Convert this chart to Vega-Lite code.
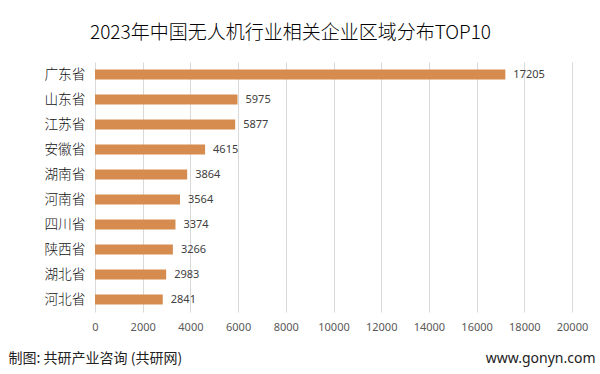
{
  "$schema": "https://vega.github.io/schema/vega-lite/v6.json",
  "autosize": "none",
  "width": 477,
  "height": 250,
  "padding": {"left": 95, "top": 62, "right": 28, "bottom": 62},
  "background": "white",
  "config": {
    "view": {"stroke": null},
    "font": "Noto Sans CJK SC"
  },
  "title": {
    "text": "2023年中国无人机行业相关企业区域分布TOP10",
    "fontSize": 19,
    "fontWeight": 300,
    "color": "#000000",
    "anchor": "middle",
    "frame": "group",
    "dx": -43,
    "offset": 19
  },
  "data": {
    "values": [
      {"province": "广东省", "count": 17205},
      {"province": "山东省", "count": 5975},
      {"province": "江苏省", "count": 5877},
      {"province": "安徽省", "count": 4615},
      {"province": "湖南省", "count": 3864},
      {"province": "河南省", "count": 3564},
      {"province": "四川省", "count": 3374},
      {"province": "陕西省", "count": 3266},
      {"province": "湖北省", "count": 2983},
      {"province": "河北省", "count": 2841}
    ]
  },
  "encoding": {
    "y": {
      "field": "province",
      "type": "nominal",
      "sort": null,
      "scale": {"paddingInner": 0.6, "paddingOuter": 0.3},
      "axis": {
        "title": "www.gonyn.com",
        "titleAngle": 0,
        "titleX": 500,
        "titleY": 296,
        "titleAlign": "right",
        "titleBaseline": "middle",
        "titleFontSize": 14,
        "titleFontWeight": "normal",
        "titleColor": "#222222",
        "titleFont": "Noto Sans",
        "domain": false,
        "ticks": false,
        "labelFontSize": 13.7,
        "labelFontWeight": 300,
        "labelColor": "#111111",
        "labelPadding": 10
      }
    },
    "x": {
      "field": "count",
      "type": "quantitative",
      "scale": {"domain": [0, 20000], "nice": false},
      "axis": {
        "values": [0, 2000, 4000, 6000, 8000, 10000, 12000, 14000, 16000, 18000, 20000],
        "format": "d",
        "domain": false,
        "ticks": false,
        "grid": true,
        "gridColor": "#d9d9d9",
        "labelFontSize": 11,
        "labelColor": "#595959",
        "labelFont": "Noto Sans",
        "labelPadding": 9,
        "labelOverlap": false,
        "labelFlush": false,
        "labelBound": false,
        "title": "制图: 共研产业咨询 (共研网)",
        "titleX": -87,
        "titleY": 46,
        "titleAlign": "left",
        "titleAnchor": null,
        "titleBaseline": "middle",
        "titleFontSize": 14,
        "titleFontWeight": "normal",
        "titleColor": "#222222"
      }
    }
  },
  "layer": [
    {"mark": {"type": "bar", "color": "#D58C4E"}},
    {
      "mark": {"type": "text", "align": "left", "baseline": "middle", "dx": 8, "fontSize": 11, "color": "#404040", "font": "Noto Sans"},
      "encoding": {"text": {"field": "count", "type": "quantitative", "format": "d"}}
    }
  ]
}
